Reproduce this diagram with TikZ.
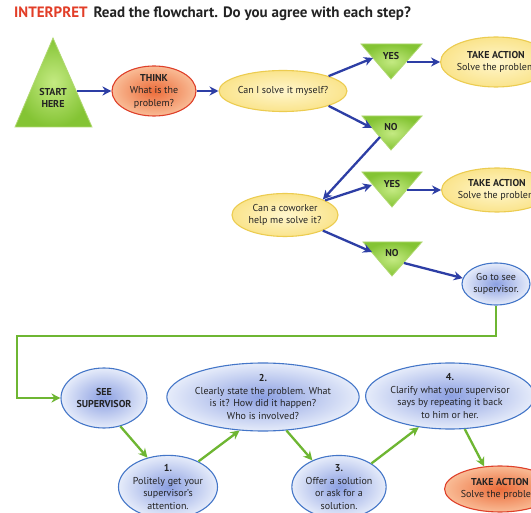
\documentclass[tikz,border=0pt]{standalone}
\usepackage{fontspec}
\setmainfont{PT Sans}
\usetikzlibrary{arrows.meta,shapes.geometric}
\definecolor{txt}{RGB}{35,35,35}
\definecolor{titleR}{RGB}{226,62,40}
\definecolor{arrB}{RGB}{45,62,165}
\definecolor{grnA}{RGB}{110,182,50}
\definecolor{yelD}{RGB}{236,204,80}
\definecolor{yelI}{RGB}{255,246,205}
\definecolor{yelO}{RGB}{250,228,140}
\definecolor{redD}{RGB}{222,64,42}
\definecolor{redI}{RGB}{236,108,58}
\definecolor{redO}{RGB}{249,188,150}
\definecolor{bluD}{RGB}{68,118,200}
\definecolor{bluI}{RGB}{140,160,226}
\definecolor{bluO}{RGB}{230,236,250}
\definecolor{triI}{RGB}{196,234,130}
\definecolor{triO}{RGB}{132,196,52}
\definecolor{triD}{RGB}{176,216,112}
\newcommand{\bodyfont}{\fontsize{10}{12.5}\selectfont}
\tikzset{
  ellbase/.style={ellipse, inner sep=0pt, align=center, font=\bodyfont, text=txt, line width=1.1pt},
  yelell/.style={ellbase, draw=yelD, inner color=yelI, outer color=yelO},
  redell/.style={ellbase, draw=redD, inner color=redI, outer color=redO},
  bluell/.style={ellbase, draw=bluD, inner color=bluI, outer color=bluO},
  tri/.style={draw=triD, line width=0.8pt, inner color=triI, outer color=triO},
  trilbl/.style={font=\bodyfont\bfseries, text=txt, inner sep=0pt},
  barrow/.style={draw=arrB, line width=2.3pt, -{Stealth[length=9pt,width=9pt]}},
  garrow/.style={draw=grnA, line width=2.3pt, -{Stealth[length=9pt,width=9pt]}}
}
\begin{document}
\begin{tikzpicture}[x=1pt,y=-1pt]
\useasboundingbox (0,0) rectangle (531,513);
\clip (0,0) rectangle (531,513);
\fill[white] (0,0) rectangle (531,513);

% title
\node[anchor=west, inner sep=0pt, font=\fontsize{15}{17}\selectfont\bfseries, text=txt] (title) at (14,14)
  {\textcolor{titleR}{INTERPRET}\hspace{6pt}Read the flowchart. Do you agree with each step?};

% triangles
\coordinate (sA) at (53,38); \coordinate (sB) at (15,127); \coordinate (sC) at (92,127);
\path[tri] (sA) -- (sC) -- (sB) -- cycle;
\node[trilbl, align=center] (start) at (53,98) {START\\HERE};
\coordinate (startR) at (77,91);

\coordinate (y1a) at (361,44); \coordinate (y1b) at (422,44); \coordinate (y1c) at (391,79);
\path[tri] (y1a) -- (y1b) -- (y1c) -- cycle;
\node[trilbl] (yes1) at (391,56) {YES};
\coordinate (yes1L) at (373,58); \coordinate (yes1R) at (407,62);

\coordinate (n1a) at (362,116); \coordinate (n1b) at (422,116); \coordinate (n1c) at (391,150);
\path[tri] (n1a) -- (n1b) -- (n1c) -- cycle;
\node[trilbl] (no1) at (391,127) {NO};
\coordinate (no1L) at (372,128); \coordinate (no1B) at (380,137);

\coordinate (y2a) at (362,172); \coordinate (y2b) at (422,172); \coordinate (y2c) at (392,207);
\path[tri] (y2a) -- (y2b) -- (y2c) -- cycle;
\node[trilbl] (yes2) at (392,184) {YES};
\coordinate (yes2L) at (372,185); \coordinate (yes2R) at (407,190);

\coordinate (n2a) at (363,242); \coordinate (n2b) at (422,242); \coordinate (n2c) at (392,276);
\path[tri] (n2a) -- (n2b) -- (n2c) -- cycle;
\node[trilbl] (no2) at (392,253) {NO};
\coordinate (no2L) at (372,252); \coordinate (no2R) at (404,263);

% ellipses
\node[redell, minimum width=84pt, minimum height=50pt] (think) at (154,91)
  {\textbf{THINK}\\What is the\\problem?};
\node[yelell, minimum width=106pt, minimum height=41pt] (can) at (283,91)
  {Can I solve it myself?};
\node[yelell, minimum width=102pt, minimum height=50pt] (take1) at (496,62)
  {\textbf{TAKE ACTION}\\Solve the problem};
\node[yelell, minimum width=106pt, minimum height=43pt] (cow) at (285,215)
  {Can a coworker\\help me solve it?};
\node[yelell, minimum width=100pt, minimum height=44pt] (take2) at (497,190)
  {\textbf{TAKE ACTION}\\Solve the problem};
\node[bluell, minimum width=68pt, minimum height=42pt] (go) at (496,284)
  {Go to see\\supervisor.};
\node[bluell, minimum width=86pt, minimum height=60pt] (see) at (104,398)
  {\textbf{SEE}\\\textbf{SUPERVISOR}};
\node[bluell, minimum width=86pt, minimum height=62pt] (e1) at (168,487)
  {\textbf{1.}\\Politely get your\\supervisor's\\attention.};
\node[bluell, minimum width=172pt, minimum height=68pt] (e2) at (263,397)
  {\textbf{2.}\\Clearly state the problem. What\\is it? How did it happen?\\Who is involved?};
\node[bluell, minimum width=94pt, minimum height=56pt] (e3) at (339,487)
  {\textbf{3.}\\Offer a solution\\or ask for a\\solution.};
\node[bluell, minimum width=152pt, minimum height=66pt] (e4) at (450,396)
  {\textbf{4.}\\Clarify what your supervisor\\says by repeating it back\\to him or her.};
\node[redell, minimum width=96pt, minimum height=46pt] (take3) at (500,489)
  {\textbf{TAKE ACTION}\\Solve the problem};

% blue connectors
\draw[barrow] (startR) -- (think.west);
\draw[barrow] (think.east) -- (can.west);
\draw[barrow] (can.north east) -- (yes1L);
\draw[barrow] (yes1R) -- (take1.west);
\draw[barrow] (can.south east) -- (no1L);
\draw[barrow] (no1B) -- (cow.north east);
\draw[barrow] (cow.20) -- (yes2L);
\draw[barrow] (yes2R) -- (take2.west);
\draw[barrow] (cow.south east) -- (no2L);
\draw[barrow] (no2R) -- (go.170);

% green connectors
\coordinate (corner) at (17,336);
\draw[garrow] (go.south) |- (corner) |- (see.west);
\draw[garrow] (see.-60) -- (e1.125);
\draw[garrow] (e1.40) -- (e2.-125);
\draw[garrow] (e2.-55) -- (e3.135);
\draw[garrow] (e3.36) -- (e4.-135);
\draw[garrow] (e4.-66) -- (take3.125);
\end{tikzpicture}
\end{document}
